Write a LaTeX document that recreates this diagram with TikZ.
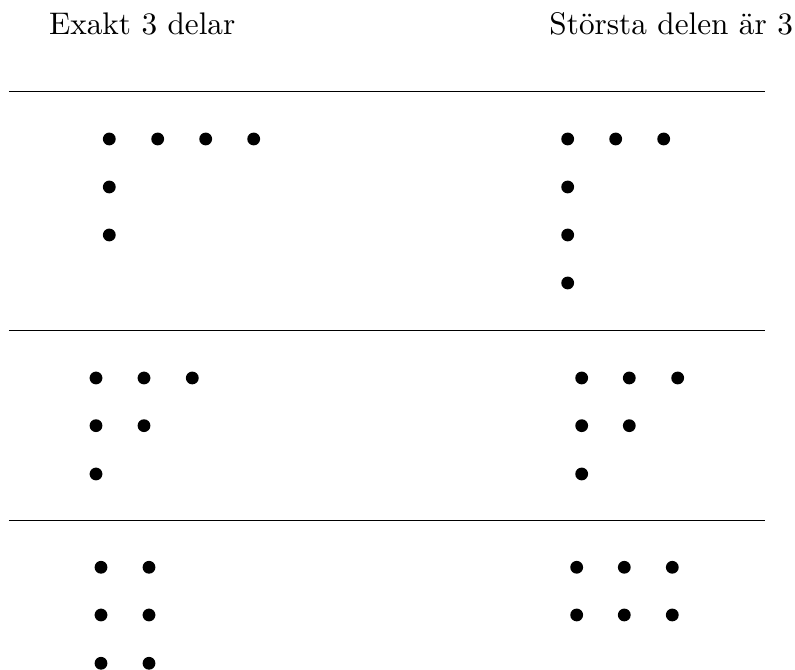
\documentclass[tikz,border=0pt]{standalone}
\usepackage{fontspec}
\begin{document}
\begin{tikzpicture}[x=0.32pt,y=-0.32pt,
  dot/.style={circle,fill=black,inner sep=0pt,minimum size=4.1pt},
  sep/.style={line width=0.4pt},
  head/.style={anchor=base,inner sep=0pt,font=\fontsize{10}{12}\selectfont}]
\useasboundingbox (0,0) rectangle (795,670);
% headings
\node[head] (hl) at (142.2,34.3) {Exakt 3 delar};
\node[head] (hr) at (671.2,34.3) {Största delen är 3};
% separator lines
\coordinate (l1a) at (9,91.7);  \coordinate (l1b) at (765,91.7);
\coordinate (l2a) at (9,330.7); \coordinate (l2b) at (765,330.7);
\coordinate (l3a) at (9,520.7); \coordinate (l3b) at (765,520.7);
\draw[sep] (l1a) -- (l1b);
\draw[sep] (l2a) -- (l2b);
\draw[sep] (l3a) -- (l3b);
% row 1 left: 4+1+1
\foreach \x/\y [count=\i] in {109.3/139,157.7/139,205.7/139,253.7/139,109.3/187,109.3/235}
  \node[dot] (a\i) at (\x,\y) {};
% row 1 right: 3+1+1+1
\foreach \x/\y [count=\i] in {567.7/139,615.7/139,663.7/139,567.7/187,567.7/235,567.7/283}
  \node[dot] (b\i) at (\x,\y) {};
% row 2 left: 3+2+1
\foreach \x/\y [count=\i] in {96/378,144/378,192.3/378,96/425.7,144/425.7,96/474}
  \node[dot] (c\i) at (\x,\y) {};
% row 2 right: 3+2+1
\foreach \x/\y [count=\i] in {581.7/378,629.3/378,677.7/378,581.7/425.7,629.3/425.7,581.7/474}
  \node[dot] (e\i) at (\x,\y) {};
% row 3 left: 2+2+2
\foreach \x/\y [count=\i] in {101/567.3,149/567.3,101/615,149/615,101/663.3,149/663.3}
  \node[dot] (f\i) at (\x,\y) {};
% row 3 right: 3+3
\foreach \x/\y [count=\i] in {576.7/567.3,624.3/567.3,672.3/567.3,576.7/615,624.3/615,672.3/615}
  \node[dot] (g\i) at (\x,\y) {};
\end{tikzpicture}
\end{document}
